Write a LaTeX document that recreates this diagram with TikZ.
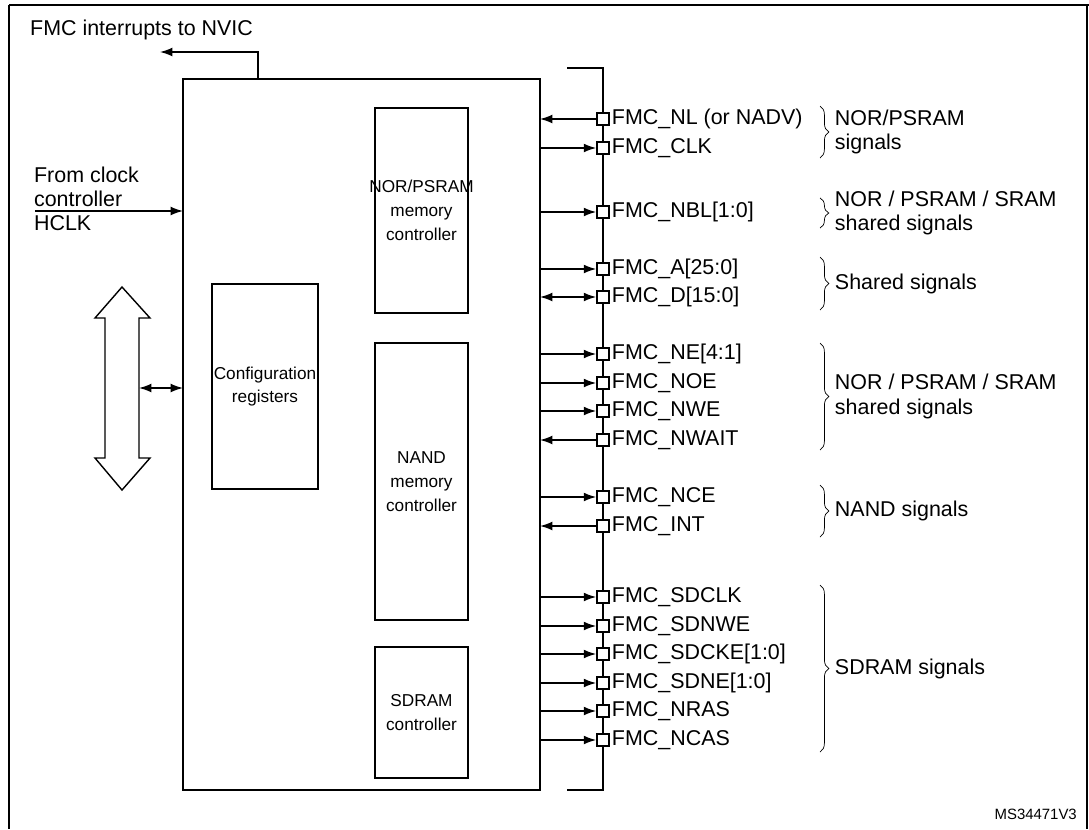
\documentclass[tikz,border=0pt]{standalone}
\usepackage{fontspec}
\setmainfont{Liberation Sans}
\usetikzlibrary{arrows.meta,decorations.pathreplacing}

\begin{document}
\begin{tikzpicture}[x=0.02cm,y=-0.02cm,font=\fontsize{12.2}{14}\selectfont,
    >={Latex[length=7pt,width=5pt]},
    blk/.style={thick,align=center},
    blktext/.style={midway,align=center,font=\fontsize{9.8}{13.5}\selectfont},
    pin/.style={draw,thick,fill=white,minimum size=7pt,inner sep=0pt},
    sig/.style={anchor=west,inner sep=1pt},
    brace/.style={decorate,decoration={brace,amplitude=5pt}},
    grp/.style={anchor=west,align=left}]
\useasboundingbox (0,0) rectangle (1089,829);
\draw[thick] (9,5) -- (9,829) (9,5) -- (1089,5) (1087,5) -- (1087,829);
% blocks
\draw[thick] (183,79) rectangle (540,790);
\draw[blk] (375,108) rectangle (468,313) node[blktext] {NOR/PSRAM\\memory\\controller};
\draw[blk] (212,284) rectangle (318,489) node[blktext] {Configuration\\registers};
\draw[blk] (375,343) rectangle (468,620) node[blktext] {NAND\\memory\\controller};
\draw[blk] (375,647) rectangle (468,778) node[blktext] {SDRAM\\controller};
% interrupts and clock
\coordinate (irqA) at (258,79);
\coordinate (irqB) at (160,52);
\draw[thick,->] (irqA) |- (irqB);
\node[anchor=west] (irq) at (24,30) {FMC interrupts to NVIC};
\node[anchor=south west,align=left,inner sep=1pt] (clk) at (32,209) {From clock\\controller};
\node[anchor=north west,inner sep=1pt] (hclk) at (32,213) {HCLK};
\coordinate (clkA) at (35,211);
\draw[thick,->] (clkA) -- (183,211);
% system bus
\draw[thick] (122,287) -- (150,318) -- (139,318) -- (139,458) -- (150,458) -- (122,490)
  -- (95,458) -- (105,458) -- (105,318) -- (95,318) -- cycle;
\draw[thick,<->] (139,388) -- (183,388);
% pin bar
\draw[thick] (567,68) -| (603,790) -- (567,790);
\foreach \y/\t/\d in {119/{FMC\_NL (or NADV)}/<-,148/FMC\_CLK/->,212/{FMC\_NBL[1:0]}/->,
    269/{FMC\_A[25:0]}/->,297/{FMC\_D[15:0]}/<->,354/{FMC\_NE[4:1]}/->,383/FMC\_NOE/->,
    411/FMC\_NWE/->,440/FMC\_NWAIT/<-,497/FMC\_NCE/->,526/FMC\_INT/<-,
    597/FMC\_SDCLK/->,626/FMC\_SDNWE/->,654/{FMC\_SDCKE[1:0]}/->,683/{FMC\_SDNE[1:0]}/->,
    711/FMC\_NRAS/->,740/FMC\_NCAS/->} {
  \node[pin] (p\y) at (603,\y) {};
  \draw[thick,\d] (540,\y) -- (p\y.west);
  \node[sig] at (p\y.east) {\t};
}
% groups
\foreach \a/\b/\t in {106/158/{NOR/PSRAM\\signals},198/228/{NOR / PSRAM / SRAM\\shared signals},
    257/310/{Shared signals},343/450/{NOR / PSRAM / SRAM\\shared signals},
    485/537/{NAND signals},585/752/{SDRAM signals}} {
  \draw[brace] (820,\a) -- (820,\b) node[midway,grp,xshift=5pt] {\t};
}
\node[anchor=south east] (ref) at (1083,826) {\fontsize{8.5}{9}\selectfont MS34471V3};
\end{tikzpicture}
\end{document}
